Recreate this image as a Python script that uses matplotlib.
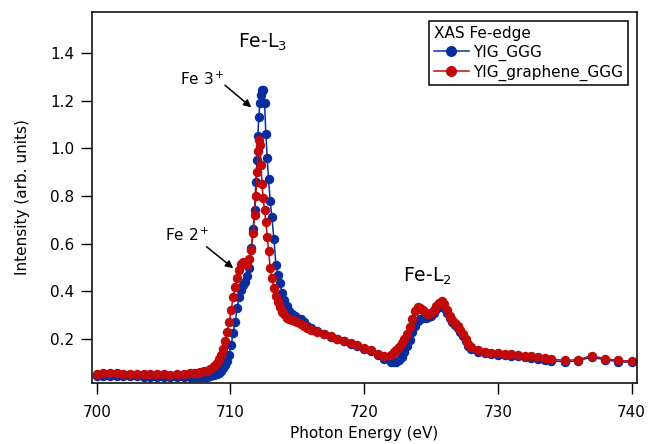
import matplotlib
matplotlib.use('Agg')
import matplotlib.pyplot as plt
import numpy as np

# XAS Fe L-edge spectra
energy = [700.0, 700.5, 701.0, 701.5, 702.0, 702.5, 703.0, 703.5, 704.0, 704.5,
          705.0, 705.5, 706.0, 706.5, 707.0, 707.25, 707.5, 707.75,
          708.0, 708.25, 708.5, 708.75, 709.0,
          709.15, 709.3, 709.45, 709.6, 709.75, 709.9,
          710.05, 710.2, 710.35, 710.5, 710.65, 710.8, 710.95,
          711.1, 711.25, 711.4, 711.55, 711.7, 711.8, 711.9, 711.98,
          712.05, 712.12, 712.2, 712.28, 712.36, 712.45, 712.55, 712.65, 712.75, 712.85, 712.97,
          713.1, 713.25, 713.4, 713.55, 713.7, 713.85,
          714.0, 714.2, 714.4, 714.6, 714.8,
          715.0, 715.25, 715.5, 715.75, 716.0,
          716.5, 717.0, 717.5, 718.0, 718.5, 719.0, 719.5, 720.0, 720.5, 721.0, 721.5, 722.0,
          722.2, 722.4, 722.6, 722.8, 723.0, 723.2, 723.4, 723.6, 723.8, 724.0,
          724.2, 724.4, 724.6, 724.8, 725.0, 725.2, 725.4, 725.6, 725.8, 726.0,
          726.2, 726.4, 726.6, 726.8, 727.0, 727.2, 727.4, 727.6, 727.8, 728.0,
          728.5, 729.0, 729.5, 730.0, 730.5, 731.0, 731.5, 732.0, 732.5, 733.0, 733.5, 734.0,
          735.0, 736.0, 737.0, 738.0, 739.0, 740.0]

yig_ggg = [0.046, 0.046, 0.045, 0.044, 0.044, 0.043, 0.043, 0.042, 0.042, 0.041,
           0.041, 0.040, 0.041, 0.042, 0.040, 0.040, 0.041, 0.040,
           0.040, 0.041, 0.043, 0.048, 0.053,
           0.058, 0.066, 0.078, 0.092, 0.108, 0.135,
           0.175, 0.225, 0.270, 0.330, 0.375, 0.405, 0.425,
           0.440, 0.465, 0.500, 0.580, 0.660, 0.740, 0.860, 0.950,
           1.050, 1.130, 1.190, 1.225, 1.245, 1.245, 1.190, 1.060, 0.960, 0.870, 0.780,
           0.710, 0.620, 0.510, 0.470, 0.435, 0.395,
           0.365, 0.338, 0.318, 0.305, 0.297,
           0.290, 0.282, 0.270, 0.256, 0.245,
           0.232, 0.222, 0.210, 0.200, 0.190, 0.180, 0.170, 0.160, 0.148, 0.132, 0.118, 0.105,
           0.102, 0.105, 0.112, 0.125, 0.145, 0.170, 0.198, 0.228, 0.255, 0.275,
           0.285, 0.288, 0.290, 0.292, 0.298, 0.310, 0.325, 0.335, 0.340, 0.330,
           0.308, 0.288, 0.272, 0.258, 0.245, 0.230, 0.212, 0.192, 0.172, 0.158,
           0.146, 0.140, 0.137, 0.134, 0.132, 0.130, 0.127, 0.124, 0.121, 0.117, 0.113, 0.109,
           0.104, 0.109, 0.124, 0.113, 0.105, 0.102]

yig_graphene_ggg = [0.055, 0.058, 0.057, 0.056, 0.055, 0.055, 0.054, 0.053, 0.053, 0.052,
                    0.052, 0.051, 0.053, 0.053, 0.056, 0.057, 0.058, 0.060,
                    0.064, 0.068, 0.075, 0.086, 0.100,
                    0.115, 0.135, 0.158, 0.190, 0.228, 0.270,
                    0.320, 0.375, 0.420, 0.455, 0.490, 0.515, 0.525,
                    0.518, 0.512, 0.535, 0.575, 0.645, 0.720, 0.800, 0.900,
                    0.990, 1.035, 1.015, 0.930, 0.850, 0.790, 0.740, 0.690, 0.630, 0.570, 0.500,
                    0.455, 0.415, 0.380, 0.355, 0.335, 0.315,
                    0.303, 0.290, 0.282, 0.278, 0.275,
                    0.272, 0.265, 0.255, 0.247, 0.238,
                    0.230, 0.222, 0.212, 0.202, 0.193, 0.183, 0.174, 0.163, 0.152, 0.138, 0.128, 0.135,
                    0.145, 0.155, 0.167, 0.182, 0.200, 0.222, 0.250, 0.285, 0.318, 0.333,
                    0.330, 0.320, 0.310, 0.303, 0.310, 0.322, 0.340, 0.352, 0.358, 0.345,
                    0.320, 0.295, 0.280, 0.268, 0.255, 0.240, 0.222, 0.200, 0.180, 0.165,
                    0.152, 0.146, 0.142, 0.140, 0.138, 0.136, 0.134, 0.130, 0.128, 0.124, 0.120, 0.116,
                    0.110, 0.114, 0.130, 0.118, 0.110, 0.108]

yticks = [0.2, 0.4, 0.6, 0.8, 1.0, 1.2, 1.4]
xticks = [700, 710, 720, 730, 740]

blue = '#0a2d9e'
red = '#c00a0a'

plt.rcParams['font.family'] = 'DejaVu Sans'
plt.rcParams['font.size'] = 11

fig = plt.figure(figsize=(6.49, 4.44), dpi=100)
ax = fig.add_axes([0.1418, 0.1374, 0.8397, 0.8356])

ax.plot(energy, yig_ggg, '-o', color=blue, lw=1.1, ms=5.8, label='YIG_GGG')
ax.plot(energy, yig_graphene_ggg, '-o', color=red, lw=1.1, ms=5.8, label='YIG_graphene_GGG')

ax.set_xlim(699.65, 740.4)
ax.set_ylim(0.0156, 1.572)
ax.set_xticks(xticks)
ax.set_yticks(yticks)
ax.tick_params(axis='x', direction='out', length=8, width=1.0, pad=8, labelsize=11)
ax.tick_params(axis='y', direction='out', length=8, width=1.0, pad=5, labelsize=11)
for s in ax.spines.values():
    s.set_linewidth(1.1)

ax.set_xlabel('Photon Energy (eV)', fontsize=11, labelpad=4)
ax.set_ylabel('Intensity (arb. units)', fontsize=11, labelpad=14)

# peak labels
ax.text(712.36, 1.445, 'Fe-L$_3$', fontsize=13.5, ha='center', va='center')
ax.text(724.7, 0.464, 'Fe-L$_2$', fontsize=13.5, ha='center', va='center')
ax.text(707.9, 1.29, 'Fe 3$^+$', fontsize=11, ha='center', va='center')
ax.text(706.8, 0.635, 'Fe 2$^+$', fontsize=11, ha='center', va='center')

# arrows
arrow = dict(arrowstyle='-|>', color='black', lw=1.1, mutation_scale=11,
             shrinkA=0, shrinkB=0)
ax.annotate('', xy=(711.56, 1.172), xytext=(709.59, 1.265), arrowprops=arrow)
ax.annotate('', xy=(710.21, 0.497), xytext=(708.22, 0.587), arrowprops=arrow)

leg = ax.legend(title='XAS Fe-edge', loc='upper right', fontsize=11, title_fontsize=11,
                alignment='left', fancybox=False, framealpha=1, edgecolor='black',
                handlelength=2.3, handletextpad=0.3, borderpad=0.3, labelspacing=0.25,
                borderaxespad=0.6, markerscale=1.2)
leg.get_frame().set_linewidth(1.1)

fig.savefig('out.png', dpi=100)
